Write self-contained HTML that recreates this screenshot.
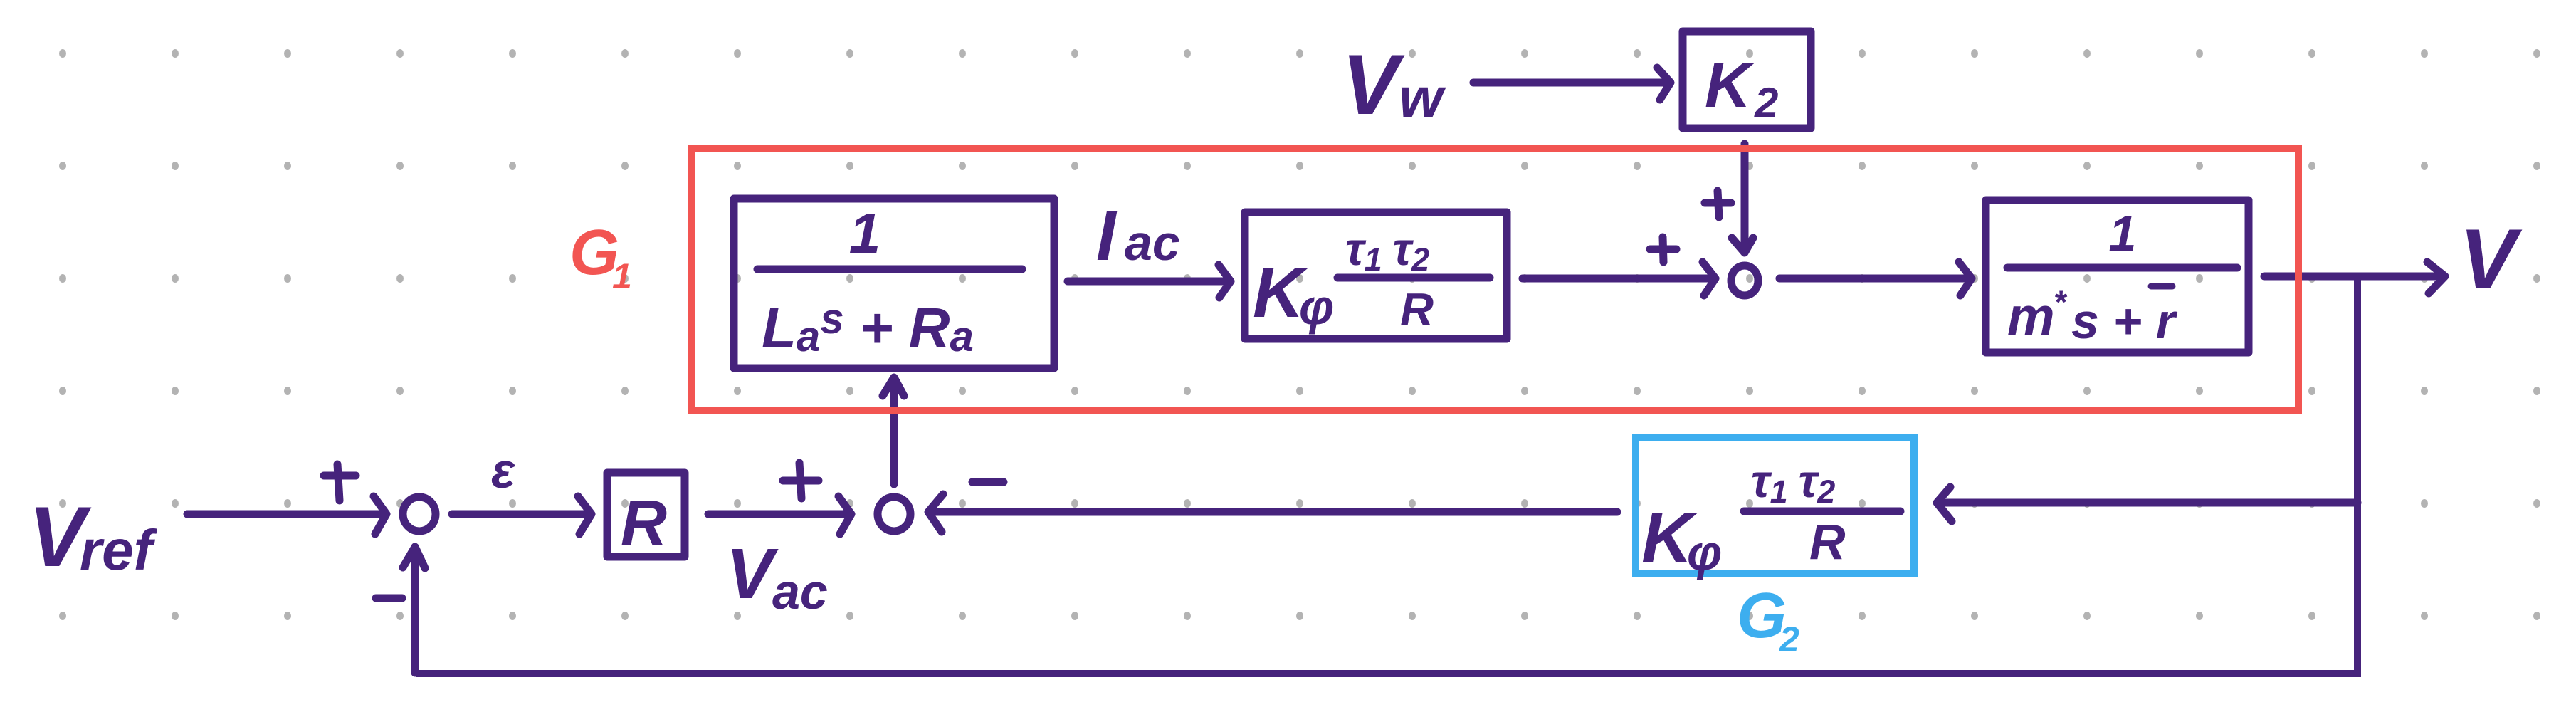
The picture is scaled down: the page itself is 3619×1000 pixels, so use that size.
<!DOCTYPE html>
<html><head><meta charset="utf-8"><style>
html,body{margin:0;padding:0;background:#fff;}
svg{display:block;}
text{font-family:"Liberation Sans","DejaVu Sans",sans-serif;fill:#46237c;}
</style></head><body>
<svg width="3619" height="1000" viewBox="0 0 3619 1000" xmlns="http://www.w3.org/2000/svg">
<defs>
<pattern id="dots" x="0" y="0" width="158" height="158" patternUnits="userSpaceOnUse">
<ellipse cx="88" cy="75" rx="5" ry="6" fill="#b3b3b3"/>
</pattern>
</defs>
<rect width="3619" height="1000" fill="#fff"/>
<rect width="3619" height="1000" fill="url(#dots)"/>

<g stroke="#46237c" stroke-width="11" fill="none" stroke-linecap="round" stroke-linejoin="round">
<rect x="1031" y="279" width="450" height="238"/>
<rect x="1749" y="298" width="368" height="178"/>
<rect x="2364" y="44" width="180" height="136"/>
<rect x="2790" y="281" width="369" height="214"/>
<rect x="853" y="664" width="109" height="118"/>
<line x1="1064" y1="378" x2="1436" y2="378"/>
<line x1="1879" y1="390" x2="2093" y2="390"/>
<line x1="2820" y1="376" x2="3143" y2="376"/>
<line x1="2450" y1="718" x2="2670" y2="718"/>
<ellipse cx="589" cy="722" rx="23" ry="24"/>
<ellipse cx="1256" cy="722" rx="23" ry="24"/>
<ellipse cx="2451" cy="394" rx="19" ry="21"/>
<path d="M263 722 H540 M525 697 L543 722 L527 750"/>
<path d="M635 722 H828 M812 697 L831 722 L814 750"/>
<path d="M995 722 H1193 M1178 697 L1196 722 L1180 750"/>
<path d="M1256 680 V535 M1240 556 L1256 530 L1270 556"/>
<path d="M2272 719 H1308 M1325 694 L1304 719 L1323 747"/>
<path d="M1500 395 H1727 M1712 372 L1729 395 L1713 418"/>
<path d="M2139 391 H2405 M2392 368 L2410 391 L2394 415"/>
<path d="M2500 391 H2768 M2752 368 L2770 391 L2754 415"/>
<path d="M2070 116 H2343 M2328 95 L2347 116 L2332 140"/>
<path d="M2451 202 V350 M2433 334 L2451 355 L2463 334"/>
<path d="M3181 388 H3432 M3410 368 L3435 388 L3412 412"/>
<path d="M3312 706 H2724 M2740 684 L2721 706 L2742 732"/>
<path d="M583 945 V772 M566 797 L583 768 L597 798"/>
<path d="M455 668 H500 M474 652 L477 703"/>
<path d="M1100 675 H1150 M1123 650 L1126 700"/>
<path d="M2318 350 H2355 M2336 333 L2337 368"/>
<path d="M2395 285 H2432 M2413 268 L2415 305"/>
<path d="M1366 677 H1410"/>
<path d="M528 840 H565"/>
<path d="M3022 402 H3052" stroke-width="9"/>
</g>
<path d="M3312 388 V946 H585" stroke="#46237c" stroke-width="10" fill="none"/>

<rect x="971" y="208" width="2258" height="368" fill="none" stroke="#f25552" stroke-width="10"/>
<rect x="2298" y="614" width="391" height="192" fill="none" stroke="#3daeef" stroke-width="10"/>

<g font-style="italic" font-weight="bold">
<text x="40" y="795" font-size="120">V</text>
<text x="112" y="800" font-size="80">ref</text>
<text x="690" y="685" font-size="70">ε</text>
<text x="872" y="765" font-size="90">R</text>
<text x="1020" y="840" font-size="100">V</text>
<text x="1085" y="855" font-size="70">ac</text>
<text x="1540" y="365" font-size="100">I</text>
<text x="1580" y="365" font-size="70">ac</text>
<text x="1885" y="160" font-size="120">V</text>
<text x="1965" y="165" font-size="80">w</text>
<text x="2395" y="150" font-size="90">K</text>
<text x="2465" y="165" font-size="60">2</text>
<text x="3455" y="405" font-size="120">V</text>
<text x="1215" y="355" font-size="80" text-anchor="middle">1</text>
<text x="1070" y="488" font-size="80">L<tspan font-size="60" dy="5">a</tspan><tspan font-size="60" dy="-25">s</tspan><tspan dy="20"> + R</tspan><tspan font-size="60" dy="5">a</tspan></text>
<text x="2982" y="352" font-size="70" text-anchor="middle">1</text>
<text x="2820" y="470" font-size="75">m</text>
<text x="2885" y="440" font-size="45">*</text>
<text x="2910" y="475" font-size="70">s + r</text>
<text x="1760" y="445" font-size="100">K</text>
<text x="1825" y="455" font-size="70">φ</text>
<text x="1890" y="372" font-size="65">τ<tspan font-size="45" dy="8">1</tspan><tspan dy="-8" dx="15">τ</tspan><tspan font-size="45" dy="8">2</tspan></text>
<text x="1967" y="457" font-size="65">R</text>
<text x="2306" y="790" font-size="100">K</text>
<text x="2370" y="800" font-size="70">φ</text>
<text x="2460" y="698" font-size="65">τ<tspan font-size="45" dy="8">1</tspan><tspan dy="-8" dx="15">τ</tspan><tspan font-size="45" dy="8">2</tspan></text>
<text x="2542" y="785" font-size="70">R</text>
<text x="800" y="385" font-size="90" style="fill:#f25552">G</text>
<text x="860" y="405" font-size="50" style="fill:#f25552">1</text>
<text x="2440" y="895" font-size="90" style="fill:#3daeef">G</text>
<text x="2500" y="915" font-size="50" style="fill:#3daeef">2</text>
</g>
</svg>
</body></html>
